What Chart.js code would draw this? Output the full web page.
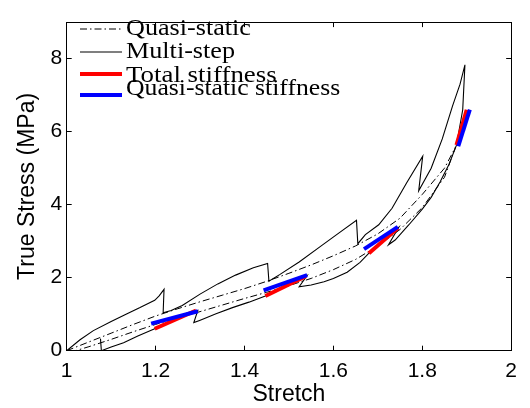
<!DOCTYPE html>
<html><head><meta charset="utf-8">
<script src="https://cdn.jsdelivr.net/npm/chart.js@4.4.1/dist/chart.umd.min.js"></script>
<style>html,body{margin:0;padding:0;background:#fff}#wrap{width:530px;height:408px}</style>
</head><body><div id="wrap"><canvas id="c" width="530" height="408"></canvas></div>
<script>
// ---- data ----
const xTicks = [1, 1.2, 1.4, 1.6, 1.8, 2];
const yTicks = [0, 2, 4, 6, 8];
const seriesLabels = ['Quasi-static', 'Multi-step', 'Total stiffness', 'Quasi-static stiffness'];

// quasi-static loading (up) then unloading (down)
const quasiStretch = [1.000,1.050,1.100,1.150,1.200,1.250,1.300,1.350,1.400,1.450,1.500,1.550,1.600,1.650,1.700,1.750,1.800,1.850,1.875,
                      1.850,1.800,1.750,1.700,1.650,1.600,1.550,1.500,1.450,1.400,1.350,1.300,1.250,1.200,1.150,1.100,1.050,1.020];
const quasiStress  = [0.00,0.24,0.48,0.72,0.95,1.15,1.34,1.52,1.70,1.90,2.12,2.35,2.60,2.87,3.20,3.63,4.28,5.00,5.58,
                      4.75,3.92,3.32,2.87,2.50,2.22,1.98,1.78,1.60,1.43,1.25,1.07,0.90,0.72,0.52,0.31,0.11,0.00];

// multi-step loading/relaxation then unloading/recovery
const multiStretch = [1.000,1.030,1.060,1.100,1.130,1.165,1.198,1.208,1.219,1.217,1.235,1.260,1.300,1.340,1.380,1.420,1.452,
                      1.455,1.465,1.480,1.523,1.568,1.612,1.652,1.655,1.672,1.702,1.732,1.765,1.801,1.792,1.820,1.845,1.868,1.885,1.896,1.891,
                      1.877,1.860,1.840,1.820,1.800,1.770,1.739,1.724,1.747,1.680,1.660,1.631,1.600,1.579,1.550,1.523,1.541,
                      1.447,1.410,1.373,1.336,1.299,1.286,1.295,1.198,1.160,1.128,1.100,1.078,1.076];
const multiStress  = [0.00,0.30,0.55,0.80,0.98,1.18,1.38,1.50,1.68,1.04,1.10,1.24,1.55,1.83,2.07,2.27,2.39,
                      1.90,1.98,2.09,2.43,2.83,3.22,3.57,2.93,3.18,3.45,3.90,4.60,5.33,4.38,5.00,5.80,6.70,7.30,7.83,6.60,
                      5.63,5.10,4.62,4.20,3.88,3.45,3.03,2.90,3.38,2.67,2.42,2.15,1.98,1.89,1.80,1.75,2.06,
                      1.50,1.33,1.18,1.01,0.83,0.77,1.10,0.60,0.40,0.22,0.10,0.00,0.33];

// stiffness segments: [start, end] for each step
const totalStretch  = [[1.198,1.291],[1.447,1.538],[1.680,1.745],[1.877,1.900]];
const totalStress   = [[0.60,1.10],[1.50,2.04],[2.67,3.36],[5.63,6.60]];
const qsStiffStretch = [[1.190,1.295],[1.443,1.541],[1.669,1.745],[1.881,1.907]];
const qsStiffStress  = [[0.74,1.08],[1.65,2.07],[2.78,3.39],[5.60,6.60]];

// ---- build datasets ----
const pts = (xs, ys) => xs.map((x, i) => ({x: x, y: ys[i]}));
const datasets = [];
datasets.push({label: seriesLabels[0], data: pts(quasiStretch, quasiStress), borderColor: '#000', borderWidth: 1,
  borderDash: [7, 3, 1.5, 3], order: 3, inLegend: true});
datasets.push({label: seriesLabels[1], data: pts(multiStretch, multiStress), borderColor: '#000', borderWidth: 1.1,
  borderDash: [], order: 2, inLegend: true});
totalStretch.forEach((xs, i) => datasets.push({label: seriesLabels[2], data: pts(xs, totalStress[i]), borderColor: '#ff0000',
  borderWidth: 4, borderDash: [], order: 1, inLegend: i === 0}));
qsStiffStretch.forEach((xs, i) => datasets.push({label: seriesLabels[3], data: pts(xs, qsStiffStress[i]), borderColor: '#0000ff',
  borderWidth: 4, borderDash: [], order: 0, inLegend: i === 0}));
datasets.forEach(d => { d.showLine = true; d.pointRadius = 0; d.tension = 0; d.fill = false; d.borderCapStyle = 'butt'; });

const insideLegend = {
  id: 'insideLegend',
  afterDatasetsDraw(chart, args, opts) {
    const ctx = chart.ctx;
    const items = chart.data.datasets.filter(d => d.inLegend);
    items.forEach((d, i) => {
      const ly = opts.lineY[i];
      ctx.save();
      ctx.beginPath();
      ctx.setLineDash(d.borderDash || []);
      ctx.lineWidth = d.borderWidth;
      ctx.strokeStyle = d.borderColor;
      ctx.moveTo(opts.x0, ly);
      ctx.lineTo(opts.x1, ly);
      ctx.stroke();
      ctx.restore();
      ctx.save();
      ctx.fillStyle = '#000';
      ctx.font = opts.font;
      ctx.textBaseline = 'alphabetic';
      ctx.textAlign = 'left';
      ctx.translate(opts.textX, opts.textY[i]);
      ctx.scale(opts.stretchX[i], 1);
      ctx.fillText(d.label, 0, 0);
      ctx.restore();
    });
  }
};

const tickFont = {family: 'Liberation Sans', size: 21};
const titleFont = {family: 'Liberation Sans', size: 23};
const setTicks = arr => scale => { scale.ticks = arr.map(v => ({value: v})); };
const common = {
  type: 'linear',
  grid: {drawOnChartArea: false, tickLength: -5, color: '#000', lineWidth: 1},
  border: {display: true, color: '#000', width: 1}
};

new Chart(document.getElementById('c'), {
  type: 'scatter',
  data: {datasets: datasets},
  plugins: [insideLegend],
  options: {
    responsive: false, animation: false, devicePixelRatio: 1,
    layout: {padding: {top: 9, right: 17, left: 0, bottom: 0}},
    plugins: {
      legend: {display: false}, tooltip: {enabled: false},
      insideLegend: {x0: 80, x1: 122, textX: 126, lineY: [29, 52, 74, 95], textY: [34.5, 57.5, 81.5, 95],
        font: '24px "Liberation Serif"', stretchX: [1.09, 1.09, 1.12, 1.07]}
    },
    scales: {
      x: Object.assign({}, common, {
        axis: 'x', position: 'bottom', min: 1, max: 2,
        afterBuildTicks: setTicks(xTicks),
        afterFit: s => { s.height = 57.3; },
        ticks: {color: '#000', font: tickFont, padding: 13, maxRotation: 0, autoSkip: false, callback: v => String(v)},
        title: {display: true, text: 'Stretch', color: '#000', font: titleFont, padding: {top: 0, bottom: 0}}
      }),
      x2: Object.assign({}, common, {
        axis: 'x', position: 'top', min: 1, max: 2,
        afterBuildTicks: setTicks(xTicks),
        afterFit: s => { s.height = 0; },
        ticks: {display: false}
      }),
      y: Object.assign({}, common, {
        axis: 'y', position: 'left', min: 0, max: 9,
        afterBuildTicks: setTicks(yTicks),
        afterFit: s => { s.width = 66.7; },
        ticks: {color: '#000', font: tickFont, padding: 9.5, autoSkip: false, callback: v => String(v)},
        title: {display: true, text: 'True Stress (MPa)', color: '#000', font: titleFont, padding: {top: 14, bottom: 0}}
      }),
      y2: Object.assign({}, common, {
        axis: 'y', position: 'right', min: 0, max: 9,
        afterBuildTicks: setTicks(yTicks),
        afterFit: s => { s.width = 0; },
        ticks: {display: false}
      })
    }
  }
});
</script>
</body></html>
